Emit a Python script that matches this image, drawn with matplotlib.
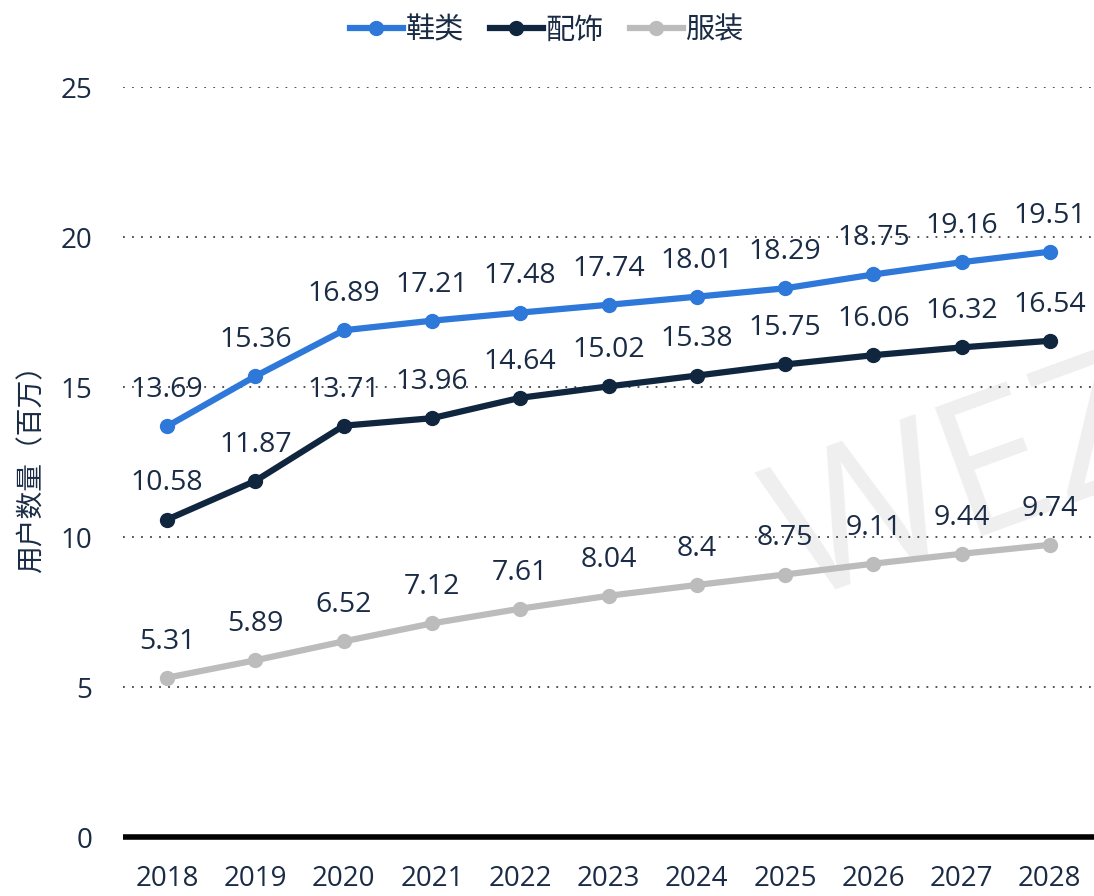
import matplotlib
matplotlib.use("Agg")
import matplotlib.pyplot as plt
from matplotlib.lines import Line2D

plt.rcParams['font.family'] = ['Open Sans', 'Noto Sans CJK SC', 'DejaVu Sans']

years = ['2018', '2019', '2020', '2021', '2022', '2023', '2024', '2025', '2026', '2027', '2028']
shoes = [13.69, 15.36, 16.89, 17.21, 17.48, 17.74, 18.01, 18.29, 18.75, 19.16, 19.51]
accessories = [10.58, 11.87, 13.71, 13.96, 14.64, 15.02, 15.38, 15.75, 16.06, 16.32, 16.54]
apparel = [5.31, 5.89, 6.52, 7.12, 7.61, 8.04, 8.4, 8.75, 9.11, 9.44, 9.74]
series_names = ['鞋类', '配饰', '服装']
colors = ['#2e78d9', '#10263f', '#bcbcbc']
y_ticks = [0, 5, 10, 15, 20, 25]
text_color = '#1a2b45'

fig = plt.figure(figsize=(10.94, 8.96), dpi=100)
ax = fig.add_axes([123/1094, 1-837/896, 971/1094, 750/896])
ax.set_zorder(1)
ax.patch.set_alpha(0)

x = list(range(len(years)))

# watermark (behind the axes)
fig.text(798/1094, 1-602/896, 'WEZ', fontsize=138, color='#efefef',
         rotation=20, ha='left', va='baseline', zorder=0, family='Open Sans',
         rotation_mode='anchor')

for vals, col in zip([shoes, accessories, apparel], colors):
    ax.plot(x, vals, color=col, lw=4.5, marker='o', ms=10, zorder=3,
            solid_capstyle='round')
    for xi, v in zip(x, vals):
        ax.annotate(f'{v:g}', (xi, v), xytext=(0, 26), textcoords='offset points',
                    ha='center', va='center', fontsize=20.5, color=text_color, zorder=4)

ax.set_xlim(-0.5, 10.5)
ax.set_ylim(0, 25)
ax.set_yticks(y_ticks)
ax.set_yticklabels([str(t) for t in y_ticks])
ax.set_xticks(x)
ax.set_xticklabels(years)
ax.tick_params(axis='both', length=0, labelsize=20, colors=text_color)
ax.tick_params(axis='y', pad=22)
ax.tick_params(axis='x', pad=20)
ax.grid(axis='y', linestyle=(0, (1, 4)), color='#444444', lw=1.3, zorder=1)
for s in ax.spines.values():
    s.set_visible(False)
ax.axhline(0, color='black', lw=4, zorder=2, clip_on=False, solid_capstyle='butt')
ax.set_ylabel('用户数量（百万）', fontsize=20, color=text_color, labelpad=10,
              family=['Noto Sans CJK SC', 'DejaVu Sans'])

handles = [Line2D([0], [0], color=c, lw=4.5, marker='o', ms=10) for c in colors]
leg = fig.legend(handles, series_names, loc='upper center', bbox_to_anchor=(0.5, 1.012),
                 ncol=3, frameon=False, handlelength=1.8, columnspacing=0.9,
                 handletextpad=0.1, prop={'family': ['Noto Sans CJK SC', 'DejaVu Sans'], 'size': 21})
for t in leg.get_texts():
    t.set_color(text_color)

fig.savefig('out.png', dpi=100)
